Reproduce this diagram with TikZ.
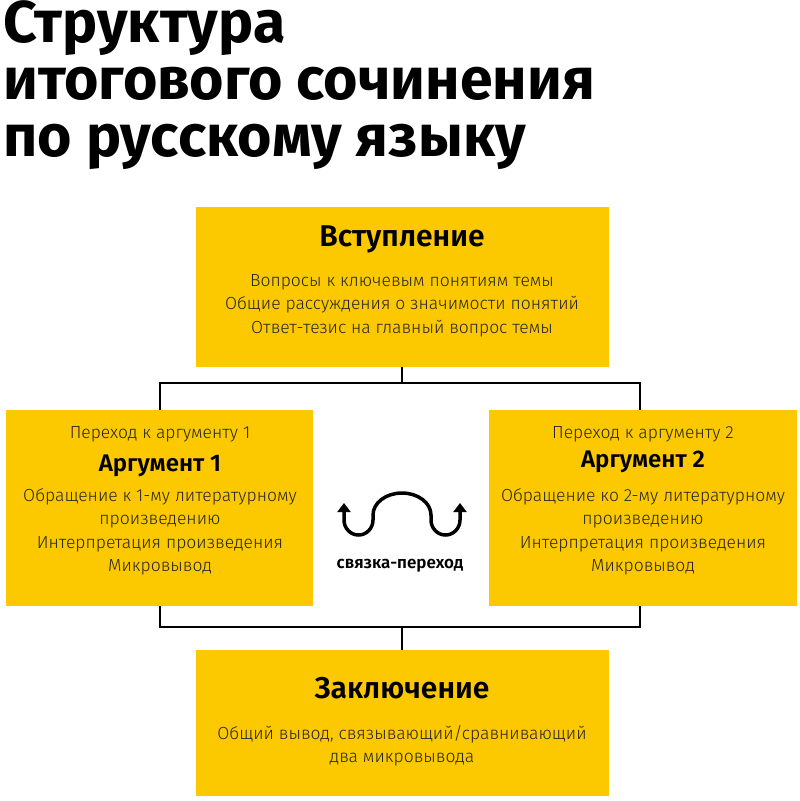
\documentclass[tikz,border=0pt]{standalone}
\usepackage{fontspec}
\setmainfont{Fira Sans Light}
\newfontfamily\headfont{Fira Sans Bold}
\newfontfamily\medfont{Fira Sans SemiBold}
\usetikzlibrary{positioning,arrows.meta}
\definecolor{boxyellow}{HTML}{FCC800}
\tikzset{
  block/.style={fill=boxyellow, draw=none},
  body/.style={align=center, font=\fontsize{17.5}{23.5}\selectfont, text=black!85, inner sep=0pt},
  heading/.style={font=\medfont\fontsize{30}{32}\selectfont, inner sep=0pt},
  joint/.style={line width=2.2pt}
}
\begin{document}
\begin{tikzpicture}[x=1pt,y=-1pt]
	\useasboundingbox (0,0) rectangle (800,801);
	% title
	\node[anchor=north west, align=left, inner sep=0pt, font=\headfont\fontsize{59}{57}\selectfont] (title) at (3,0)
		{Структура\\итогового сочинения\\по русскому языку};
	% blocks
	\fill[block] (196,207) rectangle (609,367);
	\fill[block] (6,410) rectangle (313,606);
	\fill[block] (489,410) rectangle (797,606);
	\fill[block] (196,650) rectangle (609,796);
	\coordinate (topb) at (402,367);
	\coordinate (leftt) at (160,410);
	\coordinate (rightt) at (640,410);
	\coordinate (leftb) at (160,606);
	\coordinate (rightb) at (640,606);
	\coordinate (bott) at (402,650);
	% connectors
	\draw[joint] (topb) -- ++(0,16) coordinate (hub1);
	\draw[joint] (leftt) |- (hub1) -| (rightt);
	\draw[joint] (leftb) |- (402,627) coordinate (hub2) -| (rightb);
	\draw[joint] (hub2) -- (bott);
	% texts
	\node[heading] (intro) at (402,239) {Вступление};
	\node[body, anchor=north] (introtext) at (402,274) {Вопросы к ключевым понятиям темы\\Общие рассуждения о значимости понятий\\Ответ-тезис на главный вопрос темы};
	\node[body] (pre1) at (160,434) {Переход к аргументу 1};
	\node[heading, font=\medfont\fontsize{24}{26}\selectfont] (arg1) at (160,466) {Аргумент 1};
	\node[body, anchor=north] (arg1text) at (160,488) {Обращение к 1-му литературному\\произведению\\Интерпретация произведения\\Микровывод};
	\node[body] (pre2) at (643,434) {Переход к аргументу 2};
	\node[heading, font=\medfont\fontsize{24}{26}\selectfont] (arg2) at (643,462) {Аргумент 2};
	\node[body, anchor=north] (arg2text) at (643,488) {Обращение ко 2-му литературному\\произведению\\Интерпретация произведения\\Микровывод};
	\node[heading] (concl) at (402,688) {Заключение};
	\node[body, anchor=north] (concltext) at (402,725) {Общий вывод, связывающий/сравнивающий\\два микровывода};
	% link icon
	\draw[line width=3.5pt, {Triangle[length=9pt,width=13pt]}-{Triangle[length=9pt,width=13pt]}]
		(344,503) -- (344,520) arc[start angle=180, end angle=0, x radius=14.5, y radius=15]
		-- (373,515) arc[start angle=180, end angle=360, x radius=29, y radius=22]
		-- (431,520) arc[start angle=180, end angle=0, x radius=14.5, y radius=15]
		-- (460,503);
	\node[font=\medfont\fontsize{17}{19}\selectfont] (linklabel) at (400,566) {связка-переход};
\end{tikzpicture}
\end{document}
